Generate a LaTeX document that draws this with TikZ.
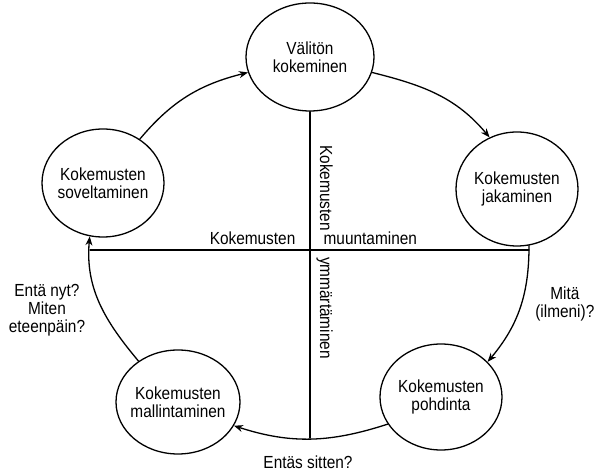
\documentclass[tikz,border=0pt]{standalone}
\usepackage{fontspec}
\setmainfont{Liberation Sans}[FakeStretch=0.88]
\usetikzlibrary{shapes.geometric,arrows.meta}
\begin{document}
\begin{tikzpicture}[x=1pt, y=1pt, font=\fontsize{17.5}{18}\selectfont, line join=round, line cap=round, line width=1.3pt, >={Stealth[length=9pt,width=7pt]},
  kupla/.style={ellipse, draw, align=center, inner xsep=-30pt, inner ysep=0pt, minimum width=122pt, minimum height=108pt},
  teksti/.style={inner sep=0pt}]
\useasboundingbox (0,0) rectangle (597,476);
\def\cx{310} \def\cy{226}
% vaiheet
\node[kupla, minimum width=128pt] (valiton) at (\cx,419) {Välitön\\kokeminen};
\node[kupla, minimum height=114pt] (jakaminen) at (517,287) {Kokemusten\\jakaminen};
\node[kupla, minimum height=106pt] (pohdinta) at (441,79) {Kokemusten\\pohdinta};
\node[kupla, minimum width=124pt, minimum height=104pt] (mallintaminen) at (178,74) {Kokemusten\\mallintaminen};
\node[kupla] (soveltaminen) at (103,293) {Kokemusten\\soveltaminen};
\coordinate (vasen) at (90,\cy);
\coordinate (oikea) at (529,\cy);
\coordinate (ala) at (\cx,38);
% akselit
\draw (vasen) -- (oikea);
\draw (valiton.south) -- (ala);
% kehä
\draw[->] (soveltaminen.50) to[out=50,in=194] (valiton.194);
\draw[->] (valiton.-14) to[out=-14,in=130] (jakaminen.118);
\draw[->] (jakaminen.-78) to[out=-90,in=50] (pohdinta.37);
\draw[->] (pohdinta.207) to[out=198,in=-18] (mallintaminen.-23);
\draw[->] (mallintaminen.134) to[out=130,in=265] (soveltaminen.256);
% tekstit
\node[teksti, anchor=base east] (kok1) at (296,231) {Kokemusten};
\node[teksti, anchor=base west] (muunt) at (323,231) {muuntaminen};
\node[teksti, rotate=-90, anchor=base] (kok2) at (320,288) {Kokemusten};
\node[teksti, rotate=-90, anchor=base] (ymm) at (320,168) {ymmärtäminen};
\node[teksti, align=center, anchor=east] (mita) at (595,172) {Mitä\\(ilmeni)?};
\node[align=center] (entanyt) at (47,166) {Entä nyt?\\Miten\\eteenpäin?};
\node (entas) at (308,14) {Entäs sitten?};
\end{tikzpicture}
\end{document}
